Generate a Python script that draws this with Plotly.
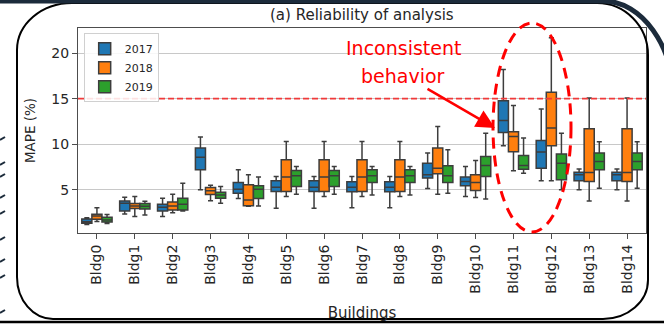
import plotly.graph_objects as go

# ---------------- data ----------------
buildings = ["Bldg0", "Bldg1", "Bldg2", "Bldg3", "Bldg4", "Bldg5", "Bldg6", "Bldg7",
             "Bldg8", "Bldg9", "Bldg10", "Bldg11", "Bldg12", "Bldg13", "Bldg14"]
years = ["2017", "2018", "2019"]

# box statistics per year: lower whisker, Q1, median, Q3, upper whisker
lo_2017  = [1.20, 2.36, 2.07, 5.00, 4.05, 2.99, 2.99, 3.05, 3.05, 5.15, 4.27, 9.84, 5.99, 5.00, 5.00]
q1_2017  = [1.35, 2.69, 2.69, 7.20, 4.64, 4.81, 4.81, 4.80, 4.80, 6.29, 5.44, 11.30, 7.38, 5.99, 5.99]
med_2017 = [1.50, 3.54, 3.10, 8.59, 5.07, 5.30, 5.30, 5.30, 5.30, 6.65, 5.91, 12.60, 9.14, 6.65, 6.65]
q3_2017  = [1.80, 3.79, 3.43, 9.58, 5.80, 5.99, 5.99, 5.90, 5.90, 7.93, 6.40, 14.78, 10.42, 6.94, 6.94]
hi_2017  = [1.95, 4.20, 4.09, 10.80, 7.20, 6.46, 6.46, 6.46, 6.46, 9.03, 7.56, 18.20, 13.87, 7.30, 7.30]

lo_2018  = [1.52, 2.07, 2.50, 3.80, 3.20, 4.27, 4.27, 4.27, 4.27, 4.53, 4.16, 7.09, 5.99, 3.79, 3.79]
q1_2018  = [1.78, 2.95, 2.80, 4.50, 3.25, 4.81, 4.81, 4.81, 4.81, 6.76, 4.92, 9.18, 9.84, 5.91, 5.91]
med_2018 = [2.14, 3.24, 3.24, 4.90, 3.90, 6.40, 6.40, 6.40, 6.40, 7.38, 5.80, 10.86, 11.78, 6.90, 6.90]
q3_2018  = [2.33, 3.50, 3.68, 5.25, 5.55, 8.30, 8.30, 8.30, 8.30, 9.58, 6.65, 11.37, 15.70, 11.70, 11.70]
hi_2018  = [3.05, 4.27, 4.53, 5.50, 6.65, 10.30, 10.30, 10.30, 10.30, 11.96, 8.22, 14.26, 21.67, 15.07, 15.07]

lo_2019  = [1.30, 2.25, 2.69, 3.54, 3.24, 4.53, 4.53, 4.45, 4.45, 4.64, 4.00, 6.83, 5.00, 5.18, 5.18]
q1_2019  = [1.48, 2.90, 2.80, 4.09, 4.05, 5.37, 5.37, 5.80, 5.80, 5.80, 6.46, 7.27, 6.10, 7.20, 7.20]
med_2019 = [1.70, 3.20, 3.43, 4.45, 5.07, 6.54, 6.54, 6.54, 6.54, 6.54, 7.67, 7.67, 7.93, 8.10, 8.10]
q3_2019  = [2.00, 3.50, 4.09, 4.75, 5.44, 7.12, 7.12, 7.20, 7.20, 7.64, 8.66, 8.77, 8.92, 9.03, 9.03]
hi_2019  = [2.30, 3.76, 5.73, 5.37, 6.40, 7.56, 7.56, 7.56, 7.56, 9.40, 11.20, 10.68, 11.20, 10.27, 10.27]

threshold = 15
y_ticks = [5, 10, 15, 20]

# ---------------- layout geometry (pixels) ----------------
W, H = 664, 324
L, R, T, B = 78, 646, 28, 233  # plot area in pixels


def px(x):
    return (x - L) / (R - L)


def py(y):
    return (B - y) / (B - T)


colors = {"2017": "#1f77b4", "2018": "#ff7f0e", "2019": "#2ca02c"}
stats = {
    "2017": (lo_2017, q1_2017, med_2017, q3_2017, hi_2017),
    "2018": (lo_2018, q1_2018, med_2018, q3_2018, hi_2018),
    "2019": (lo_2019, q1_2019, med_2019, q3_2019, hi_2019),
}

fig = go.Figure()
for yr in years:
    lo, q1, med, q3, hi = stats[yr]
    fig.add_trace(go.Box(
        name=yr, x=buildings, q1=q1, median=med, q3=q3,
        lowerfence=lo, upperfence=hi,
        fillcolor=colors[yr], line=dict(color="#3d3d3d", width=1.5),
        whiskerwidth=0.5, boxpoints=False, hoverinfo="skip",
    ))

shapes = []
# threshold line
shapes.append(dict(type="line", xref="paper", yref="y", x0=0, x1=1, y0=threshold, y1=threshold,
                   line=dict(color="#f03a3a", width=1.7, dash="6px,3px"), layer="above"))
# dashed ellipse
shapes.append(dict(type="circle", xref="paper", yref="paper",
                   x0=px(493), x1=px(571), y0=py(232), y1=py(23),
                   line=dict(color="#ff0000", width=3, dash="11px,7px"), layer="above"))

# rounded black border of the slide box
bx0, bx1, by0, by1 = 17, 648, 3, 319
tl = (55, 47); tr = (51, 52); bl = (36, 42); br = (45, 39)
k = 0.552
path = (
    f"M{px(bx0 + tl[0])},{py(by0)} "
    f"L{px(bx1 - tr[0])},{py(by0)} "
    f"C{px(bx1 - tr[0] + k*tr[0])},{py(by0)} {px(bx1)},{py(by0 + tr[1] - k*tr[1])} {px(bx1)},{py(by0 + tr[1])} "
    f"L{px(bx1)},{py(by1 - br[1])} "
    f"C{px(bx1)},{py(by1 - br[1] + k*br[1])} {px(bx1 - br[0] + k*br[0])},{py(by1)} {px(bx1 - br[0])},{py(by1)} "
    f"L{px(bx0 + bl[0])},{py(by1)} "
    f"C{px(bx0 + bl[0] - k*bl[0])},{py(by1)} {px(bx0)},{py(by1 - bl[1] + k*bl[1])} {px(bx0)},{py(by1 - bl[1])} "
    f"L{px(bx0)},{py(by0 + tl[1])} "
    f"C{px(bx0)},{py(by0 + tl[1] - k*tl[1])} {px(bx0 + tl[0] - k*tl[0])},{py(by0)} {px(bx0 + tl[0])},{py(by0)} Z"
)
shapes.append(dict(type="path", xref="paper", yref="paper", path=path,
                   line=dict(color="#000000", width=2), layer="above"))
# bottom black line
shapes.append(dict(type="line", xref="paper", yref="paper", x0=px(-5), x1=px(670), y0=py(322), y1=py(322),
                   line=dict(color="#000000", width=2.5), layer="above"))
# navy band at the top with its curved corner
navy = "#1c2b3b"
npath = (
    f"M{px(-10)},{py(1)} L{px(603)},{py(1)} "
    f"C{px(642)},{py(1)} {px(674)},{py(46)} {px(674)},{py(101)}"
)
shapes.append(dict(type="path", xref="paper", yref="paper", path=npath,
                   line=dict(color=navy, width=5), layer="above"))
# fragments of neighbouring text at the left edge
for yy in [140, 165, 177, 198, 214, 240, 262, 278, 313]:
    shapes.append(dict(type="line", xref="paper", yref="paper", x0=px(0), x1=px(5), y0=py(yy), y1=py(yy - 3),
                       line=dict(color=navy, width=2), layer="above"))

annotations = [
    dict(text="(a) Reliability of analysis", x=0.5, y=py(15), xref="paper", yref="paper",
         xanchor="center", yanchor="middle",
         showarrow=False, font=dict(size=15, color="#262626", family="DejaVu Sans")),
    dict(text="Inconsistent", x=px(403), y=py(48), xref="paper", yref="paper",
         xanchor="center", yanchor="middle",
         showarrow=False, font=dict(size=19, color="#ff0000", family="DejaVu Sans")),
    dict(text="behavior", x=px(403), y=py(76), xref="paper", yref="paper",
         xanchor="center", yanchor="middle",
         showarrow=False, font=dict(size=19, color="#ff0000", family="DejaVu Sans")),
    dict(text="", x=px(495), y=py(128), xref="paper", yref="paper",
         showarrow=True, ax=426 - 495, ay=88 - 128, axref="pixel", ayref="pixel",
         arrowhead=2, arrowsize=1.5, arrowwidth=2.5, arrowcolor="#ff0000", standoff=0),
]

fig.update_layout(
    width=W, height=H, autosize=False,
    margin=dict(l=L, r=W - R, t=T, b=H - B, autoexpand=False),
    paper_bgcolor="white", plot_bgcolor="white",
    boxmode="group", boxgap=0.2, boxgroupgap=0.0,
    font=dict(family="DejaVu Sans", color="#262626", size=14),
    shapes=shapes, annotations=annotations,
    legend=dict(x=0.01, y=0.975, xanchor="left", yanchor="top",
                bgcolor="rgba(255,255,255,0.85)", bordercolor="#d0d0d0", borderwidth=1,
                font=dict(size=11, color="#262626"), tracegroupgap=0),
    showlegend=True,
)
fig.update_xaxes(
    type="category", categoryorder="array", categoryarray=buildings,
    tickangle=-90, ticks="outside", ticklen=5, tickcolor="#4d4d4d", tickwidth=1,
    showline=True, mirror=True, linecolor="#4d4d4d", linewidth=1,
    showgrid=False, tickfont=dict(size=14), automargin=False,
    title=dict(text="Buildings", font=dict(size=15), standoff=14),
)
fig.update_yaxes(
    range=[0.27, 22.75], tickvals=y_ticks, ticks="outside", ticklen=5, tickcolor="#4d4d4d",
    showline=True, mirror=True, linecolor="#4d4d4d", linewidth=1,
    showgrid=True, gridcolor="#c8c8c8", gridwidth=1, zeroline=False,
    tickfont=dict(size=14), automargin=False,
    title=dict(text="MAPE (%)", font=dict(size=13.5), standoff=12),
)

fig.write_html("out.html", config={"displayModeBar": False},
               post_script="document.body.style.margin='0';")
